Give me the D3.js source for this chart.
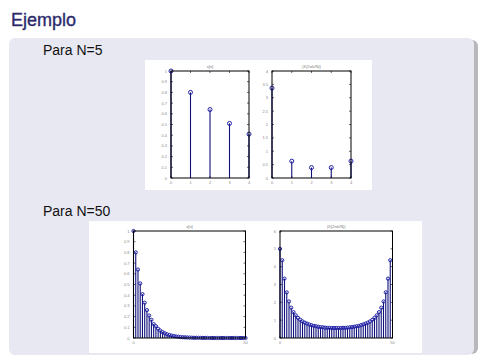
<!DOCTYPE html>
<html>
<head>
<meta charset="utf-8">
<script src="https://cdn.jsdelivr.net/npm/d3@7"></script>
<style>
  body { margin: 0; background: #fff; }
  svg { display: block; }
</style>
</head>
<body>
<div id="viz"></div>
<script>
// values
const xn5 = [1, 0.8, 0.64, 0.51, 0.41];
const Xk5 = [3.36, 0.63, 0.39, 0.39, 0.63];

const xn50 = [1, 0.8, 0.64, 0.51, 0.41, 0.33, 0.26, 0.21, 0.17, 0.13,
  0.11, 0.086, 0.069, 0.055, 0.044, 0.035, 0.028, 0.023, 0.018, 0.014,
  0.012, 0.009, 0.007, 0.006, 0.005, 0.004, 0.003, 0.002, 0.002, 0.002,
  0.001, 0.001, 0.001, 0.001, 0, 0, 0, 0, 0, 0,
  0, 0, 0, 0, 0, 0, 0, 0, 0, 0, 0];
const Xk50 = [5, 4.36, 3.33, 2.56, 2.05, 1.7, 1.45, 1.27, 1.13, 1.02,
  0.93, 0.86, 0.81, 0.76, 0.72, 0.68, 0.66, 0.63, 0.61, 0.6,
  0.58, 0.57, 0.57, 0.56, 0.56, 0.56, 0.56, 0.56, 0.57, 0.57,
  0.58, 0.6, 0.61, 0.63, 0.66, 0.68, 0.72, 0.76, 0.81, 0.86,
  0.93, 1.02, 1.13, 1.27, 1.45, 1.7, 2.05, 2.56, 3.33, 4.36];

const yTicks01 = [0, 0.1, 0.2, 0.3, 0.4, 0.5, 0.6, 0.7, 0.8, 0.9, 1];
const yTicks4 = [0, 0.5, 1, 1.5, 2, 2.5, 3, 3.5, 4];
const yTicks6 = [0, 1, 2, 3, 4, 5, 6];
const xTicks5 = [0, 1, 2, 3, 4];
const xTicks50 = [0, 50];

const W = 484, H = 363;
const svg = d3.select("#viz").append("svg")
  .attr("width", W).attr("height", H)
  .style("font-family", "'Liberation Sans', Arial, sans-serif");

// slide title
svg.append("text")
  .attr("x", 11).attr("y", 26)
  .attr("font-size", 18)
  .attr("fill", "#2c2a6c")
  .attr("stroke", "#2c2a6c").attr("stroke-width", 0.35)
  .text("Ejemplo");

// panel with shadow on the right
svg.append("rect")
  .attr("x", 14).attr("y", 40).attr("width", 464).attr("height", 314)
  .attr("rx", 6).attr("fill", "#b8b8bc");
svg.append("rect")
  .attr("x", 9).attr("y", 38).attr("width", 465).attr("height", 317)
  .attr("rx", 6).attr("fill", "#e8e8f3");

svg.append("text")
  .attr("x", 43).attr("y", 55)
  .attr("font-size", 14).attr("fill", "#111")
  .text("Para N=5");
svg.append("text")
  .attr("x", 43).attr("y", 216)
  .attr("font-size", 14).attr("fill", "#111")
  .text("Para N=50");

// white figure backgrounds
svg.append("rect").attr("x", 145).attr("y", 60).attr("width", 227).attr("height", 130).attr("fill", "#fff");
svg.append("rect").attr("x", 89).attr("y", 221).attr("width", 333).attr("height", 132).attr("fill", "#fff");

function stemPlot(box, values, xDomain, yDomain, xt, yt, title, r) {
  const g = svg.append("g");
  const x = d3.scaleLinear().domain(xDomain).range([box.x0, box.x1]);
  const y = d3.scaleLinear().domain(yDomain).range([box.y1, box.y0]);

  // ticks (inside, on all sides, matlab style)
  const tl = 2;
  const tk = g.append("g").attr("stroke", "#000").attr("stroke-width", 0.6);
  yt.forEach(v => {
    tk.append("line").attr("x1", box.x0).attr("x2", box.x0 + tl).attr("y1", y(v)).attr("y2", y(v));
    tk.append("line").attr("x1", box.x1).attr("x2", box.x1 - tl).attr("y1", y(v)).attr("y2", y(v));
  });
  xt.forEach(v => {
    tk.append("line").attr("y1", box.y1).attr("y2", box.y1 - tl).attr("x1", x(v)).attr("x2", x(v));
    tk.append("line").attr("y1", box.y0).attr("y2", box.y0 + tl).attr("x1", x(v)).attr("x2", x(v));
  });

  g.selectAll(".yl").data(yt).enter().append("text")
    .attr("x", box.x0 - 4).attr("y", d => y(d) + 1.5)
    .attr("text-anchor", "end").attr("font-size", 4).attr("fill", "#888")
    .text(d => d);
  g.selectAll(".xl").data(xt).enter().append("text")
    .attr("x", d => x(d)).attr("y", box.y1 + 6)
    .attr("text-anchor", "middle").attr("font-size", 4).attr("fill", "#888")
    .text(d => d);
  g.append("text")
    .attr("x", (box.x0 + box.x1) / 2).attr("y", box.y0 - 3)
    .attr("text-anchor", "middle").attr("font-size", 4).attr("fill", "#777")
    .text(title);

  // stems
  g.selectAll(".stem").data(values).enter().append("line")
    .attr("x1", (d, i) => x(i)).attr("x2", (d, i) => x(i))
    .attr("y1", y(0)).attr("y2", d => y(d))
    .attr("stroke", "#10107a").attr("stroke-width", 1.1);
  g.selectAll(".mk").data(values).enter().append("circle")
    .attr("cx", (d, i) => x(i)).attr("cy", d => y(d))
    .attr("r", r).attr("fill", "none")
    .attr("stroke", "#2020a8").attr("stroke-width", 1);

  // axes box
  g.append("rect")
    .attr("x", box.x0).attr("y", box.y0)
    .attr("width", box.x1 - box.x0).attr("height", box.y1 - box.y0)
    .attr("fill", "none").attr("stroke", "#000").attr("stroke-width", 1);
}

stemPlot({x0: 171, x1: 249, y0: 71, y1: 178}, xn5, [0, 4], [0, 1], xTicks5, yTicks01, "x[n]", 2);
stemPlot({x0: 272, x1: 351, y0: 71, y1: 178}, Xk5, [0, 4], [0, 4], xTicks5, yTicks4, "|X(2\u03c0k/N)|", 2);
stemPlot({x0: 133.5, x1: 245.5, y0: 231, y1: 338}, xn50, [0, 50], [0, 1], xTicks50, yTicks01, "x[n]", 1.6);
stemPlot({x0: 280, x1: 392.5, y0: 231, y1: 338}, Xk50, [0, 50], [0, 6], xTicks50, yTicks6, "|X(2\u03c0k/N)|", 1.6);
</script>
</body>
</html>
